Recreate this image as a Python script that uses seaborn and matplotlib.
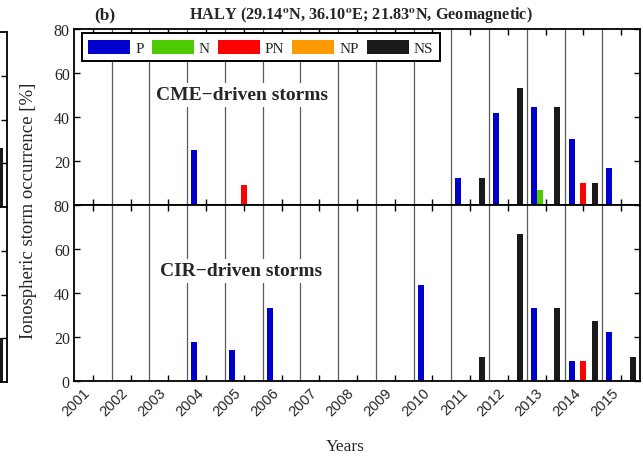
import numpy as np
import pandas as pd
import matplotlib
matplotlib.use("Agg")
import matplotlib.pyplot as plt
import seaborn as sns

years = list(range(2001, 2016))
types = ["P", "N", "PN", "NP", "NS"]
colors = ["#0000CC", "#4CCC00", "#FF0000", "#FF9900", "#1A1A1A"]

# CME-driven storms (%), per year 2001..2015
cme_P  = [0, 0, 0, 25.0, 0, 0, 0, 0, 0, 0, 12.5, 41.7, 44.4, 30.0, 16.7]
cme_N  = [0, 0, 0, 0, 0, 0, 0, 0, 0, 0, 0, 0, 6.7, 0, 0]
cme_PN = [0, 0, 0, 0, 9.1, 0, 0, 0, 0, 0, 0, 0, 0, 10.0, 0]
cme_NP = [0, 0, 0, 0, 0, 0, 0, 0, 0, 0, 0, 0, 0, 0, 0]
cme_NS = [0, 0, 0, 0, 0, 0, 0, 0, 0, 0, 12.5, 53.3, 44.4, 10.0, 0]

# CIR-driven storms (%)
cir_P  = [0, 0, 0, 17.6, 14.3, 33.3, 0, 0, 0, 43.5, 0, 0, 33.3, 9.1, 22.2]
cir_N  = [0, 0, 0, 0, 0, 0, 0, 0, 0, 0, 0, 0, 0, 0, 0]
cir_PN = [0, 0, 0, 0, 0, 0, 0, 0, 0, 0, 0, 0, 0, 9.1, 0]
cir_NP = [0, 0, 0, 0, 0, 0, 0, 0, 0, 0, 0, 0, 0, 0, 0]
cir_NS = [0, 0, 0, 0, 0, 0, 0, 0, 0, 0, 11.0, 67.0, 33.3, 27.3, 11.0]

yticks = [0, 20, 40, 60, 80]

# cropped edge of neighbouring panel (a): last visible bar in each panel
frag_cme = [27.0]
frag_cir = [20.0]


def long_df(series):
    rows = []
    for t, vals in zip(types, series):
        for y, v in zip(years, vals):
            rows.append({"year": y, "type": t, "value": v})
    return pd.DataFrame(rows)


df_cme = long_df([cme_P, cme_N, cme_PN, cme_NP, cme_NS])
df_cir = long_df([cir_P, cir_N, cir_PN, cir_NP, cir_NS])

sns.set_theme(style="white")
plt.rcParams["font.family"] = ["Liberation Serif", "DejaVu Serif"]
plt.rcParams["mathtext.fontset"] = "stix"

W, H = 643, 460
fig = plt.figure(figsize=(W / 100, H / 100), dpi=100)
L = 74 / W
Wd = 566 / W
ax1 = fig.add_axes([L, 1 - 206 / H, Wd, 176 / H])
ax2 = fig.add_axes([L, 1 - 382 / H, Wd, 176 / H])

# fragment axes (panel a cut at the left border)
fw = 100
fa1 = fig.add_axes([(7 - fw) / W, 1 - 208 / H, fw / W, 175 / H])
fa2 = fig.add_axes([(7 - fw) / W, 1 - 383 / H, fw / W, 175 / H])
for fa, vals in [(fa1, frag_cme), (fa2, frag_cir)]:
    sns.barplot(x=[0], y=vals, color="#1A1A1A", width=0.2, saturation=1,
                linewidth=0, ax=fa)
    fa.set_xlim(-0.5, 0.124)
    fa.set_ylim(0, 80)
    fa.set_xticks([])
    fa.set_yticks([20, 40, 60])
    fa.set_yticklabels([])
    fa.tick_params(axis="y", direction="in", length=4, width=1.0,
                   right=True, left=False, color="black")
    for s in fa.spines.values():
        s.set_visible(True)
        s.set_color("black")
        s.set_linewidth(1.3)

pal = dict(zip(types, colors))
for ax, df in [(ax1, df_cme), (ax2, df_cir)]:
    sns.barplot(data=df, x="year", y="value", hue="type", hue_order=types,
                palette=pal, width=0.78, gap=0, dodge=True, ax=ax,
                linewidth=0, saturation=1, legend=(ax is ax1), zorder=3)
    ax.set_xlim(-0.5, len(years) - 0.5)
    ax.set_ylim(0, 80)
    for b in np.arange(0.5, len(years) - 1, 1.0):
        ax.axvline(b, color="#5a5a5a", lw=0.9, zorder=1)
    ax.set_xticks(range(len(years)))
    ax.set_yticks(yticks)
    ax.tick_params(axis="both", direction="in", length=4.5, width=1.0,
                   color="black", top=True, right=True, bottom=True, left=True)
    ax.tick_params(axis="y", labelsize=11.5, pad=3)
    for s in ax.spines.values():
        s.set_visible(True)
        s.set_color("black")
        s.set_linewidth(1.3)
        s.set_zorder(6)
    ax.set_xlabel("")
    ax.set_ylabel("")

# top panel: hide 0 label
ax1.set_yticklabels(["", "20", "40", "60", "80"])
ax1.set_xticklabels([])
ax2.set_yticklabels([str(v) for v in yticks])
ax2.set_xticklabels([str(y) for y in years], rotation=45, ha="right",
                    rotation_mode="default", fontsize=10.5,
                    family=["Liberation Sans", "DejaVu Sans"])
ax2.tick_params(axis="x", pad=3)

# legend
h, l = ax1.get_legend_handles_labels()
if ax1.get_legend() is not None:
    ax1.get_legend().remove()
leg = ax1.legend(h, l, ncol=5, loc="upper left",
                 bbox_to_anchor=(0.014, 0.975), fontsize=11,
                 handlelength=2.75, handleheight=1.05, handletextpad=0.35,
                 columnspacing=0.5, borderpad=0.4, frameon=True,
                 fancybox=False, framealpha=1, borderaxespad=0)
leg.get_frame().set_edgecolor("black")
leg.get_frame().set_linewidth(1.4)
leg.set_zorder(7)

box = dict(facecolor="white", edgecolor="none", pad=2.5)
ax1.text(0.297, 0.625, "CME\u2212driven storms", transform=ax1.transAxes,
         ha="center", va="center", fontsize=14, fontweight="bold",
         bbox=box, zorder=5)
ax2.text(0.295, 0.625, "CIR\u2212driven storms", transform=ax2.transAxes,
         ha="center", va="center", fontsize=14, fontweight="bold",
         bbox=box, zorder=5)

fig.text(29 / W, 1 - 211 / H, "Ionospheric storm occurrence [%]",
         rotation=90, ha="center", va="center", fontsize=13.5)
fig.text(345 / W, 1 - 447 / H, "Years", ha="center", va="center", fontsize=12.5)
fig.text(105 / W, 1 - 15 / H, "(b)", ha="center", va="center", fontsize=12.5,
         fontweight="bold")
fig.text(361 / W, 1 - 15 / H,
         r"HALY (29.14$^{\mathbf{o}}$N, 36.10$^{\mathbf{o}}$E; 21.83$^{\mathbf{o}}$N, Geomagnetic)",
         ha="center", va="center", fontsize=11.7, fontweight="bold")

fig.savefig("out.png", dpi=100)
